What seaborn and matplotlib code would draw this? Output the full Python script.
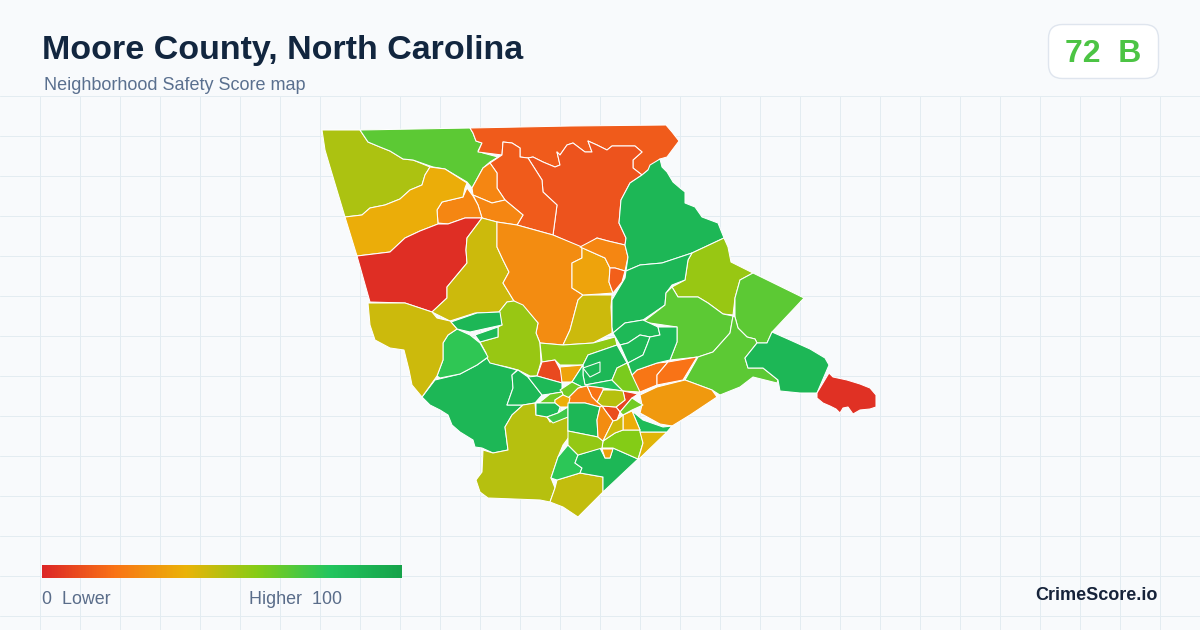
import numpy as np
import pandas as pd
import matplotlib
matplotlib.use("Agg")
import matplotlib.pyplot as plt
from matplotlib.collections import PolyCollection
from matplotlib.colors import LinearSegmentedColormap, Normalize
from matplotlib.patches import FancyBboxPatch
import seaborn as sns

# Texts
title = "Moore County, North Carolina"
subtitle = "Neighborhood Safety Score map"
badge_text = "72  B"
legend_low = "0  Lower"
legend_high = "Higher  100"
brand = "CrimeScore.io"

# Colour scale of the legend
scale_stops = [0, 20, 40, 60, 80, 100]
scale_colors = ["#dc2626", "#f97316", "#eab308", "#84cc16", "#22c55e", "#16a34a"]

# One score per neighbourhood, same order as the outlines below
scores = [
    52, 68, 14, 12, 14, 26, 26, 26, 38, 2,
    46, 28, 46, 56, 58, 9, 35, 35, 26, 15,
    88, 56, 68, 88, 68, 68, 88, 3, 32, 21,
    20, 88, 88, 82, 62, 87, 87, 86, 88, 88,
    77, 88, 87, 87, 46, 50, 48, 78, 88, 34,
    60, 42, 85, 38, 8, 10, 50, 20, 24, 64,
    64, 39, 86, 74, 88, 57, 28, 46, 64,
]

# Neighbourhood outlines (map x, y)
outlines = [
    [(322,130),(360,130),(368,142),(380,147),(390,151),(403,159),(413,160),(430,167),(425,175),(422,185),(410,190),(400,199),(385,205),(370,208),(362,215),(345,217),(330,167),(325,150)],
    [(360,130),(470,128),(473,133),(476,141),(482,143),(478,151),(483,153),(498,157),(490,162),(483,168),(472,188),(467,182),(445,169),(433,167),(413,160),(403,159),(390,151),(380,147),(368,142)],
    [(470,128),(570,126),(666,125),(672,132),(679,141),(667,157),(660,159),(648,170),(642,175),(633,168),(633,160),(642,152),(635,146),(612,146),(607,150),(597,145),(588,141),(592,152),(585,152),(573,143),(567,145),(560,155),(557,152),(560,165),(555,167),(543,162),(533,157),(528,158),(520,157),(520,148),(512,143),(503,142),(502,155),(478,152),(482,143),(476,141),(473,133)],
    [(528,158),(533,157),(543,162),(555,167),(560,165),(557,152),(560,155),(567,145),(573,143),(585,152),(592,152),(588,141),(597,145),(607,150),(612,146),(635,146),(642,152),(633,160),(633,168),(642,175),(630,183),(621,200),(619,223),(626,238),(625,245),(608,241),(597,238),(587,245),(580,247),(553,235),(557,205),(543,192),(542,180)],
    [(502,155),(503,142),(512,143),(520,148),(520,157),(528,158),(542,180),(543,192),(557,205),(553,235),(517,225),(523,215),(505,200),(497,188),(497,173),(490,163)],
    [(490,163),(497,173),(497,188),(505,200),(492,203),(473,195),(472,188),(483,168)],
    [(473,195),(492,203),(505,200),(523,215),(517,225),(497,222),(482,218),(478,205)],
    [(467,188),(473,196),(478,205),(482,218),(465,218),(448,224),(438,223),(437,210),(442,202),(463,197)],
    [(430,167),(445,169),(467,183),(465,188),(463,197),(442,202),(437,210),(438,224),(420,231),(405,238),(390,252),(357,256),(345,217),(362,215),(370,208),(385,205),(400,199),(410,190),(422,185),(425,175)],
    [(357,256),(390,252),(405,238),(420,231),(438,224),(448,224),(465,218),(482,218),(467,238),(466,250),(467,263),(457,275),(447,287),(447,298),(432,312),(405,303),(370,302)],
    [(482,218),(497,222),(497,247),(503,260),(509,272),(503,283),(514,301),(507,302),(499,312),(475,313),(450,321),(432,312),(447,298),(447,287),(457,275),(467,263),(466,250),(467,238)],
    [(497,222),(517,225),(553,235),(582,247),(582,258),(572,263),(572,288),(583,295),(578,300),(570,330),(563,345),(540,343),(536,333),(538,323),(525,308),(514,301),(503,283),(509,272),(503,260),(497,247)],
    [(583,295),(612,295),(611,307),(612,327),(612,333),(593,343),(563,345),(570,330),(578,300)],
    [(499,312),(507,302),(514,301),(523,305),(533,317),(538,323),(536,333),(540,343),(541,362),(537,376),(530,376),(518,370),(507,367),(488,363),(486,353),(480,342),(498,337),(498,327),(502,325)],
    [(540,343),(563,345),(593,343),(615,337),(617,345),(588,355),(583,365),(560,365),(555,360),(542,362)],
    [(542,362),(555,360),(562,373),(562,383),(537,376)],
    [(560,367),(583,365),(572,382),(562,382)],
    [(582,247),(587,250),(605,258),(610,268),(609,282),(613,293),(600,294),(583,295),(572,288),(572,263),(582,258)],
    [(580,247),(597,238),(608,241),(625,245),(628,257),(625,271),(615,268),(610,268),(605,258),(587,250)],
    [(610,268),(615,268),(625,271),(622,282),(613,293),(609,282)],
    [(642,175),(648,170),(650,165),(660,159),(662,167),(667,172),(673,182),(680,188),(685,192),(685,203),(695,207),(702,217),(718,223),(724,238),(692,253),(662,263),(640,265),(626,271),(628,257),(625,245),(626,238),(619,223),(621,200),(630,183)],
    [(692,253),(724,238),(728,247),(731,262),(753,273),(740,280),(735,298),(733,315),(723,314),(708,303),(698,297),(678,297),(672,287),(685,280),(688,260)],
    [(753,273),(804,298),(772,332),(767,343),(757,343),(755,339),(747,337),(738,328),(735,317),(735,298),(740,280)],
    [(626,271),(640,265),(662,263),(692,253),(688,260),(685,280),(672,285),(666,293),(665,305),(643,320),(625,323),(613,333),(612,327),(612,300),(625,278)],
    [(672,287),(678,297),(698,297),(708,303),(723,314),(733,316),(730,333),(713,352),(698,357),(670,360),(677,342),(677,327),(643,322),(665,305),(666,293)],
    [(733,316),(735,317),(738,328),(747,337),(755,339),(757,343),(745,358),(748,368),(763,368),(778,380),(777,383),(753,377),(740,387),(720,395),(712,390),(685,380),(698,357),(713,352),(730,333)],
    [(772,332),(790,340),(810,349),(825,358),(829,365),(817,393),(800,393),(780,391),(778,380),(763,368),(748,368),(745,358),(757,343),(767,343)],
    [(829,373),(833,377),(847,380),(860,384),(870,388),(876,395),(876,407),(870,409),(860,410),(853,414),(848,407),(843,408),(840,413),(836,409),(830,406),(823,403),(817,398),(817,393)],
    [(640,395),(657,387),(685,380),(712,390),(717,397),(705,405),(690,415),(672,426),(660,424),(640,413),(642,405)],
    [(632,375),(637,370),(657,363),(668,362),(657,375),(657,385),(640,392),(637,393)],
    [(668,362),(697,357),(683,380),(657,385),(657,375)],
    [(588,355),(617,345),(627,363),(617,368),(612,380),(585,385),(583,375),(583,365)],
    [(583,368),(600,362),(600,372),(590,377)],
    [(572,382),(583,365),(583,375),(585,385),(612,380),(615,383),(623,391),(603,388),(587,386),(582,387)],
    [(617,368),(627,363),(632,375),(640,392),(623,391),(615,383),(612,380)],
    [(613,333),(625,323),(643,320),(658,327),(660,335),(650,337),(640,335),(628,343),(620,345)],
    [(620,345),(628,343),(640,335),(650,337),(647,345),(643,355),(628,363)],
    [(658,327),(677,327),(677,342),(670,360),(657,363),(637,370),(632,375),(628,363),(643,355),(647,345),(650,337),(660,335)],
    [(422,397),(435,380),(460,374),(477,365),(487,358),(490,363),(517,370),(512,375),(513,388),(507,405),(523,405),(512,415),(505,427),(508,450),(493,453),(482,448),(475,447),(473,440),(460,432),(452,425),(448,415),(440,410),(430,405)],
    [(513,388),(512,375),(518,370),(528,377),(542,395),(535,403),(523,405),(507,405)],
    [(457,329),(470,335),(480,343),(488,357),(477,365),(460,374),(440,378),(437,376),(443,360),(443,343),(448,335)],
    [(451,322),(477,313),(500,312),(502,325),(470,332),(457,329)],
    [(475,335),(498,327),(498,337),(480,342)],
    [(528,377),(537,376),(562,383),(562,392),(550,394),(542,395)],
    [(368,303),(405,303),(432,312),(437,318),(450,321),(457,329),(448,335),(443,343),(443,360),(437,376),(422,397),(412,385),(409,370),(404,350),(390,348),(375,340),(370,325)],
    [(483,450),(493,453),(508,450),(505,427),(512,415),(523,405),(535,403),(536,415),(547,417),(550,422),(568,417),(568,431),(572,433),(563,445),(558,457),(551,478),(555,488),(550,502),(540,500),(488,498),(480,492),(476,480),(482,472)],
    [(557,480),(580,473),(603,477),(603,492),(578,517),(563,507),(550,502),(555,488)],
    [(568,445),(578,455),(575,463),(582,468),(580,473),(557,480),(551,478),(558,457)],
    [(578,455),(600,448),(605,458),(610,458),(613,448),(638,459),(603,492),(603,477),(580,473),(582,468),(575,463)],
    [(602,449),(613,449),(610,458),(605,458)],
    [(615,433),(623,430),(640,430),(643,443),(638,459),(613,448),(602,448),(603,441)],
    [(640,432),(667,432),(638,460),(643,443)],
    [(632,411),(643,420),(663,427),(672,426),(667,432),(640,432),(640,430)],
    [(623,415),(632,411),(640,430),(623,430)],
    [(623,391),(638,394),(632,398),(620,412),(616,407),(625,400)],
    [(602,406),(616,407),(620,412),(617,420),(613,421),(607,413)],
    [(603,390),(615,390),(623,391),(625,400),(616,407),(602,406),(597,402)],
    [(587,386),(603,388),(603,390),(597,402),(592,397)],
    [(568,398),(578,388),(587,386),(592,397),(597,402),(602,406),(600,407),(585,403),(569,403)],
    [(560,390),(572,382),(582,387),(578,388),(568,398),(563,395),(562,392)],
    [(540,402),(550,394),(562,392),(563,395),(555,400),(555,403),(537,403)],
    [(555,400),(563,395),(570,398),(568,407),(560,407),(555,403)],
    [(536,403),(555,403),(560,407),(558,413),(547,417),(536,415)],
    [(547,417),(558,413),(568,407),(568,417),(553,423)],
    [(568,403),(585,403),(600,407),(597,420),(598,437),(568,431)],
    [(568,431),(598,437),(603,441),(602,448),(578,455),(568,445)],
    [(600,407),(602,406),(607,413),(613,421),(603,441),(598,437),(597,420)],
    [(617,420),(623,415),(623,430),(615,433),(603,441),(613,421)],
    [(620,412),(632,398),(638,402),(643,405),(632,410),(623,415)],
]

sns.set_theme(style="whitegrid", rc={
    "figure.facecolor": "#f8fafc",
    "axes.facecolor": "#f8fafc",
    "grid.color": "#e3ecf1",
    "grid.linewidth": 0.72,
})
plt.rcParams["font.family"] = ["Liberation Sans", "DejaVu Sans"]

fig = plt.figure(figsize=(12, 6.3), dpi=100)

# Map panel with the pale grid, starts under the header
ax = fig.add_axes([0, 0, 1, 534 / 630])
ax.set_xlim(0, 1200)
ax.set_ylim(630, 96)
ax.set_xticks(np.arange(40, 1200, 40))
ax.set_yticks(np.arange(96, 630, 40))
ax.tick_params(left=False, bottom=False, labelleft=False, labelbottom=False)
sns.despine(ax=ax, left=True, bottom=True)

cmap = LinearSegmentedColormap.from_list(
    "safety", [(s / 100, c) for s, c in zip(scale_stops, scale_colors)])
norm = Normalize(0, 100)

polys = PolyCollection(outlines, array=np.array(scores, dtype=float),
                       cmap=cmap, norm=norm, edgecolors="white", linewidths=0.75, zorder=3)
ax.add_collection(polys)

# Header, badge and footer in pixel positions
top = fig.add_axes([0, 0, 1, 1])
top.set_xlim(0, 1200)
top.set_ylim(630, 0)
top.set_axis_off()
top.patch.set_alpha(0)

top.text(42, 51, title, fontsize=24.45, fontweight="bold", color="#12263f", va="center")
top.text(44, 86, subtitle, fontsize=12.95, color="#5a708f", va="center")
top.add_patch(FancyBboxPatch((1048.5, 24.5), 110, 54, boxstyle="round,pad=0,rounding_size=14",
                             facecolor="white", edgecolor="#dfe5ee", linewidth=1))
top.text(1103, 54, badge_text, fontsize=23, fontweight="bold", color="#4cc444",
         ha="center", va="center")
top.text(42, 599, legend_low, fontsize=12.9, color="#5a6d8a", va="center")
top.text(249, 599, legend_high, fontsize=12.9, color="#5a6d8a", va="center")
top.text(1158, 595, brand, fontsize=13, fontweight="bold", color="#16233a", ha="right", va="center")

# Gradient legend
cax = fig.add_axes([42 / 1200, 1 - 578 / 630, 360 / 1200, 13 / 630])
legend_values = pd.DataFrame([np.linspace(0, 100, 360)])
sns.heatmap(legend_values, ax=cax, cmap=cmap, vmin=0, vmax=100, cbar=False,
            xticklabels=False, yticklabels=False)

fig.savefig("out.png", dpi=100)
